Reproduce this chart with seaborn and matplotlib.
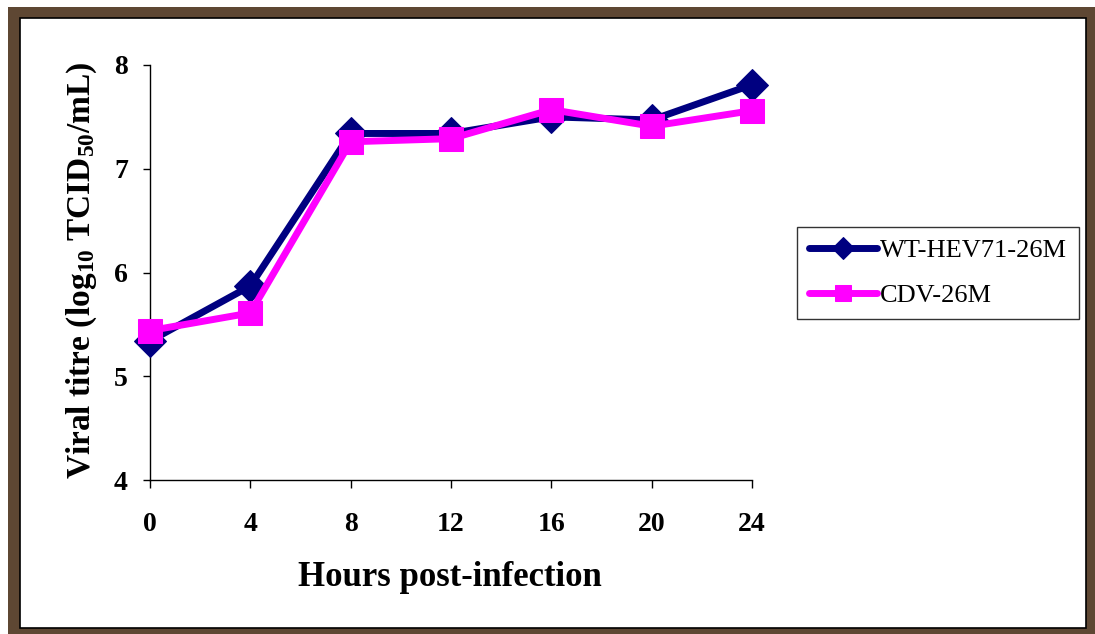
import matplotlib
matplotlib.use("Agg")
import matplotlib.pyplot as plt
import seaborn as sns
import pandas as pd
from matplotlib.patches import Rectangle

hours = [0, 4, 8, 12, 16, 20, 24]
wt_hev71 = [5.34, 5.87, 7.34, 7.34, 7.50, 7.47, 7.81]
cdv = [5.44, 5.61, 7.26, 7.29, 7.57, 7.41, 7.56]
series_names = ["WT-HEV71-26M", "CDV-26M"]
y_ticks = [4, 5, 6, 7, 8]

sns.set_theme(style="white")
plt.rcParams["font.family"] = ["Liberation Serif", "DejaVu Serif"]
plt.rcParams["mathtext.default"] = "regular"
plt.rcParams["text.color"] = "black"
plt.rcParams["xtick.color"] = "black"
plt.rcParams["ytick.color"] = "black"
plt.rcParams["axes.labelcolor"] = "black"

W, H = 1095, 634
fig = plt.figure(figsize=(W / 100, H / 100), dpi=100)
fig.patch.set_facecolor("white")

# brown frame and white panel
fig.add_artist(Rectangle((8 / W, 0), 1 - 8 / W, 1 - 7 / H, transform=fig.transFigure,
                         facecolor="#5e4733", edgecolor="none", zorder=-3))
fig.add_artist(Rectangle((20 / W, 1 - 628 / H), (1086 - 20) / W, (628 - 18) / H,
                         transform=fig.transFigure, facecolor="white",
                         edgecolor="black", linewidth=1.2, zorder=-2))

ax = fig.add_axes([150 / W, 1 - 480 / H, (752 - 150) / W, (480 - 65) / H])
ax.set_facecolor("none")

df_wt = pd.DataFrame({"hours": hours, "titre": wt_hev71})
df_cdv = pd.DataFrame({"hours": hours, "titre": cdv})

sns.lineplot(data=df_wt, x="hours", y="titre", ax=ax, color="#000080", linewidth=5,
             marker="D", markersize=16, markeredgecolor="#000080", label=series_names[0],
             clip_on=False, zorder=3)
sns.lineplot(data=df_cdv, x="hours", y="titre", ax=ax, color="#FF00FF", linewidth=5,
             marker="s", markersize=17, markeredgecolor="#FF00FF", label=series_names[1],
             clip_on=False, zorder=4)

ax.set_xlim(0, 24)
ax.set_ylim(4, 8)
ax.set_xticks(hours)
ax.set_xticklabels([str(h) for h in hours])
ax.set_yticks(y_ticks)
ax.set_yticklabels([str(v) for v in y_ticks])
for s in ["top", "right"]:
    ax.spines[s].set_visible(False)
for s in ["left", "bottom"]:
    ax.spines[s].set_color("black")
    ax.spines[s].set_linewidth(1.0)
ax.tick_params(axis="y", direction="out", length=5, width=1, color="black", pad=11,
               left=True, labelsize=20, labelcolor="black")
ax.tick_params(axis="x", direction="out", length=6, width=1, color="black", pad=17,
               bottom=True, labelsize=20, labelcolor="black")
for lbl in ax.get_xticklabels() + ax.get_yticklabels():
    lbl.set_fontweight("bold")
ax.set_xlabel("")
ax.set_ylabel("")

fig.text(450 / W, 1 - 578 / H, "Hours post-infection", ha="center", va="center",
         fontsize=25, fontweight="bold", color="black")
fig.text(82 / W, 1 - 270 / H, "Viral titre (log$_{10}$ TCID$_{50}$/mL)", ha="center",
         va="center", rotation=90, fontsize=24, fontweight="bold", color="black")

handles, labels = ax.get_legend_handles_labels()
ax.get_legend().remove()
leg = fig.legend(handles, labels, loc="upper left",
                 bbox_to_anchor=(797 / W, 1 - 227 / H), borderaxespad=0,
                 frameon=True, fancybox=False,
                 edgecolor="black", fontsize=19, handlelength=2.6, handletextpad=0.1,
                 borderpad=0.45, labelspacing=0.8, markerscale=0.7)
leg.get_frame().set_linewidth(1.0)
for t in leg.get_texts():
    t.set_color("black")

fig.savefig("out.png", dpi=100, facecolor=fig.get_facecolor())
